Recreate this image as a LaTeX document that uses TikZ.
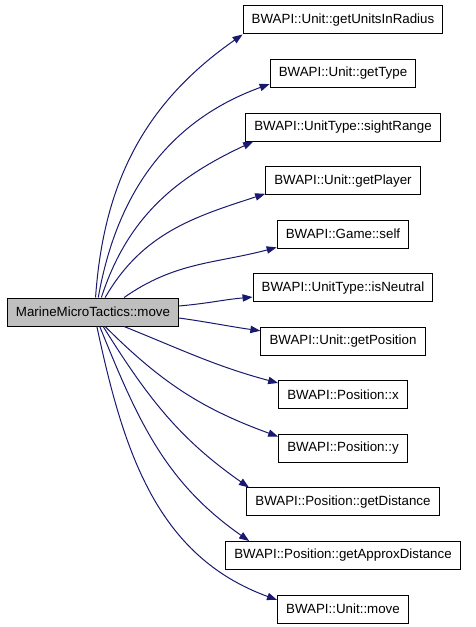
\documentclass[tikz,border=0pt]{standalone}
\usepackage{fontspec}
\setmainfont{Liberation Sans}
\usepackage{xcolor}
\usepackage{tikz}
\usetikzlibrary{arrows.meta}

\definecolor{callblue}{RGB}{25,25,112}
\definecolor{srcgrey}{RGB}{191,191,191}

\tikzset{
  fnbox/.style={draw=black,fill=white,line width=0.75pt,inner xsep=6.5pt,
    minimum height=21pt,font=\fontsize{10}{12}\selectfont},
  srcbox/.style={fnbox,fill=srcgrey},
  call/.style={draw=callblue,line width=0.75pt,-{Triangle[length=7.5pt,width=5.5pt]}}
}

\begin{document}
\begin{tikzpicture}[x=0.75pt,y=0.75pt]
    \useasboundingbox (0,0) rectangle (475,-627);
    \node[srcbox] (src) at (93,-312) {MarineMicroTactics::move};
    \foreach \i/\lbl in {1/BWAPI::Unit::getUnitsInRadius,2/BWAPI::Unit::getType,
        3/BWAPI::UnitType::sightRange,4/BWAPI::Unit::getPlayer,5/BWAPI::Game::self,
        6/BWAPI::UnitType::isNeutral,7/BWAPI::Unit::getPosition,8/BWAPI::Position::x,
        9/BWAPI::Position::y,10/BWAPI::Position::getDistance,
        11/BWAPI::Position::getApproxDistance,12/BWAPI::Unit::move}
      \node[fnbox] (t\i) at (343,{-(20+53.55*(\i-1))}) {\lbl};
    % upper calls
    \draw[call] (src.80) to[out=86,in=215] (t1.south west);
    \draw[call] (src.70) to[out=80,in=200] ([yshift=3pt]t2.south west);
    \draw[call] (src.60) to[out=72,in=205] ([xshift=6pt]t3.south west);
    \draw[call] (src.50) to[out=60,in=198] ([yshift=1pt]t4.south west);
    \draw[call] (src.25) to[out=35,in=195] ([yshift=1pt]t5.south west);
    \draw[call] (src.4) to[out=5,in=185] ([yshift=-7pt]t6.west);
    % lower calls
    \draw[call] (src.-4) to[out=-8,in=172] ([yshift=-3pt]t7.north west);
    \draw[call] (src.-25) to[out=-22,in=165] ([yshift=-2pt]t8.north west);
    \draw[call] (src.-50) to[out=-45,in=160] ([yshift=-2pt]t9.north west);
    \draw[call] (src.-55) to[out=-58,in=145] ([xshift=2pt]t10.north west);
    \draw[call] (src.-65) to[out=-68,in=145] ([xshift=18pt]t11.north west);
    \draw[call] (src.-75) to[out=-78,in=160] ([yshift=-4pt]t12.north west);
  \end{tikzpicture}
\end{document}
